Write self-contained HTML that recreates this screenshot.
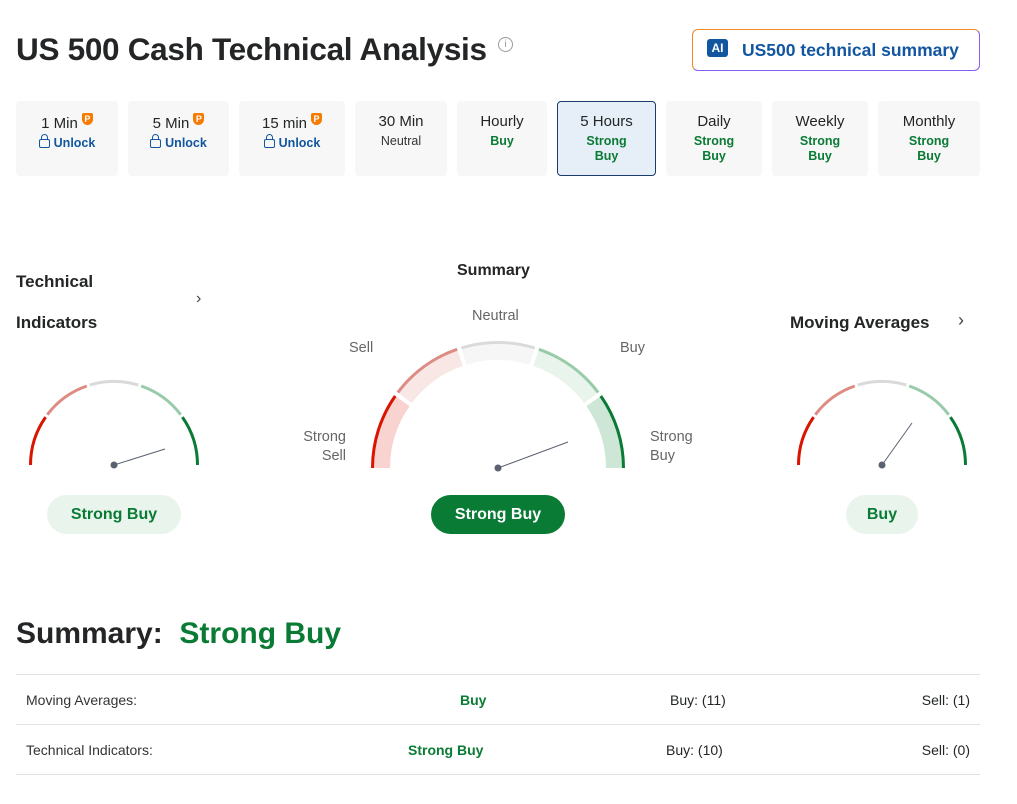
<!DOCTYPE html>
<html><head><meta charset="utf-8"><style>
body{margin:0;width:1017px;height:804px;background:#fff;font-family:"Liberation Sans",sans-serif;color:#232526;position:relative;overflow:hidden}
.a{position:absolute}
.tab{position:absolute;top:101px;height:75px;background:#f7f7f7;border-radius:4px;text-align:center;box-sizing:border-box}
.tab .t{font-size:15px;margin-top:12px;color:#232526}
.tab .s{font-size:12.5px;font-weight:bold;margin-top:4px;line-height:15px}
.g{color:#0a7b35}.u{color:#1256a0}
.p{display:inline-block;width:11px;height:12px;background:#f57c00;border-radius:2px 2px 6px 6px;color:#fff;font-size:9px;font-weight:bold;line-height:12px;vertical-align:6px;margin-left:4px}
.lock{display:inline-block;width:9px;height:7px;border:1.5px solid #1256a0;border-radius:2px;margin-right:4px;position:relative;vertical-align:-1px}
.lock:before{content:"";position:absolute;left:1px;top:-6px;width:5px;height:5px;border:1.5px solid #1256a0;border-bottom:none;border-radius:4px 4px 0 0}
.row{position:absolute;left:16px;width:964px;font-size:14px}
</style></head><body>
<div class="a" style="left:16px;top:31px;font-size:31.5px;font-weight:bold;letter-spacing:-0.3px">US 500 Cash Technical Analysis</div>
<div class="a" style="left:498px;top:37px;width:13px;height:13px;border:1.3px solid #999;border-radius:50%;font-size:10px;color:#999;text-align:center;line-height:13px">i</div>
<div class="a" style="left:692px;top:29px;width:288px;height:42px;border:1.5px solid;border-color:#f08a24 #8a5cf0 #8a5cf0 #f08a24;border-radius:6px;box-sizing:border-box"></div>
<div class="a" style="left:707px;top:39px;width:21px;height:18px;background:#1256a0;border-radius:3px;color:#fff;font-size:12px;font-weight:bold;text-align:center;line-height:18px">AI</div>
<div class="a u" style="left:742px;top:40px;font-size:17.5px;font-weight:bold">US500 technical summary</div>

<div class="tab" style="left:16px;width:102px"><div class="t">1 Min<span class="p">P</span></div><div class="s u"><span class="lock"></span>Unlock</div></div>
<div class="tab" style="left:128px;width:101px"><div class="t">5 Min<span class="p">P</span></div><div class="s u"><span class="lock"></span>Unlock</div></div>
<div class="tab" style="left:239px;width:106px"><div class="t">15 min<span class="p">P</span></div><div class="s u"><span class="lock"></span>Unlock</div></div>
<div class="tab" style="left:355px;width:92px"><div class="t">30 Min</div><div class="s" style="font-weight:normal;color:#333">Neutral</div></div>
<div class="tab" style="left:457px;width:90px"><div class="t">Hourly</div><div class="s g">Buy</div></div>
<div class="tab" style="left:557px;width:99px;background:#e6eef7;border:1px solid #1a3d6b"><div class="t" style="margin-top:11px">5 Hours</div><div class="s g">Strong<br>Buy</div></div>
<div class="tab" style="left:666px;width:96px"><div class="t">Daily</div><div class="s g">Strong<br>Buy</div></div>
<div class="tab" style="left:772px;width:96px"><div class="t">Weekly</div><div class="s g">Strong<br>Buy</div></div>
<div class="tab" style="left:878px;width:102px"><div class="t">Monthly</div><div class="s g">Strong<br>Buy</div></div>

<div class="a" style="left:16px;top:272px;font-size:17px;font-weight:bold">Technical</div>
<div class="a" style="left:16px;top:313px;font-size:17px;font-weight:bold">Indicators</div>
<div class="a" style="left:196px;top:290px;font-size:16px;color:#444">›</div>
<div class="a" style="left:457px;top:262px;font-size:16px;font-weight:bold">Summary</div>
<div class="a" style="left:790px;top:313px;font-size:17px;font-weight:bold">Moving Averages</div>
<div class="a" style="left:958px;top:310px;font-size:18px;color:#444">›</div>
<div class="a" style="left:472px;top:308px;font-size:14.5px;color:#666">Neutral</div>
<div class="a" style="left:349px;top:340px;font-size:14.5px;color:#666">Sell</div>
<div class="a" style="left:620px;top:340px;font-size:14.5px;color:#666">Buy</div>
<div class="a" style="left:299px;top:428px;font-size:14.5px;color:#666;text-align:right;line-height:19px;width:47px">Strong<br>Sell</div>
<div class="a" style="left:650px;top:428px;font-size:14.5px;color:#666;line-height:19px">Strong<br>Buy</div>

<svg id="sv" class="a" style="left:0;top:0" width="1017" height="804"></svg>

<div class="a" style="left:47px;top:495px;width:134px;height:39px;border-radius:20px;background:#e8f4ec;color:#0a7b35;font-size:16px;font-weight:bold;text-align:center;line-height:39px">Strong Buy</div>
<div class="a" style="left:431px;top:495px;width:134px;height:39px;border-radius:20px;background:#0a7b35;color:#fff;font-size:16px;font-weight:bold;text-align:center;line-height:39px">Strong Buy</div>
<div class="a" style="left:846px;top:495px;width:72px;height:39px;border-radius:20px;background:#e8f4ec;color:#0a7b35;font-size:16px;font-weight:bold;text-align:center;line-height:39px">Buy</div>

<div class="a" style="left:16px;top:617px;font-size:30px;font-weight:bold">Summary:&nbsp; <span class="g">Strong Buy</span></div>
<div class="row" style="top:674px;border-top:1px solid #e2e2e2;height:49px">
<span class="a" style="left:10px;top:17px;color:#333">Moving Averages:</span><span class="a g" style="left:444px;top:17px;font-weight:bold">Buy</span><span class="a" style="left:654px;top:17px">Buy: (11)</span><span class="a" style="right:10px;top:17px">Sell: (1)</span></div>
<div class="row" style="top:724px;border-top:1px solid #e2e2e2;border-bottom:1px solid #e2e2e2;height:49px">
<span class="a" style="left:10px;top:17px;color:#333">Technical Indicators:</span><span class="a g" style="left:392px;top:17px;font-weight:bold">Strong Buy</span><span class="a" style="left:650px;top:17px">Buy: (10)</span><span class="a" style="right:10px;top:17px">Sell: (0)</span></div>

<script>
var sv=document.getElementById('sv'),h='';
function pt(cx,cy,r,a){a=a*Math.PI/180;return [cx+r*Math.cos(a),cy-r*Math.sin(a)];}
function arc(cx,cy,r,a1,a2){var p=pt(cx,cy,r,a1),q=pt(cx,cy,r,a2);return 'M'+p[0].toFixed(1)+' '+p[1].toFixed(1)+' A'+r+' '+r+' 0 0 1 '+q[0].toFixed(1)+' '+q[1].toFixed(1);}
var col=['#d91400','#dd8c84','#dadada','#99cba9','#0a7b35'],fil=['#f8d3cf','#f8e7e5','#f6f6f6','#e8f4ec','#cde6d6'];
function gauge(cx,cy,r,big,nx,ny){
 for(var i=0;i<5;i++){var a1=180-36*i-(i?1:0),a2=180-36*(i+1)+(i<4?1:0);
  if(big)h+='<path d="'+arc(cx,cy,r-10,a1,a2)+'" stroke="'+fil[i]+'" stroke-width="18" fill="none"/>';
  h+='<path d="'+arc(cx,cy,r-1.5,a1,a2)+'" stroke="'+col[i]+'" stroke-width="3" fill="none"/>';}
 h+='<line x1="'+cx+'" y1="'+cy+'" x2="'+nx+'" y2="'+ny+'" stroke="#5b6170" stroke-width="1"/><circle cx="'+cx+'" cy="'+cy+'" r="3.5" fill="#5b6170"/>';}
gauge(498,468,127,1,568,442);
gauge(114,465,85,0,165,449);
gauge(882,465,85,0,912,423);
sv.innerHTML=h;
</script>
</body></html>
